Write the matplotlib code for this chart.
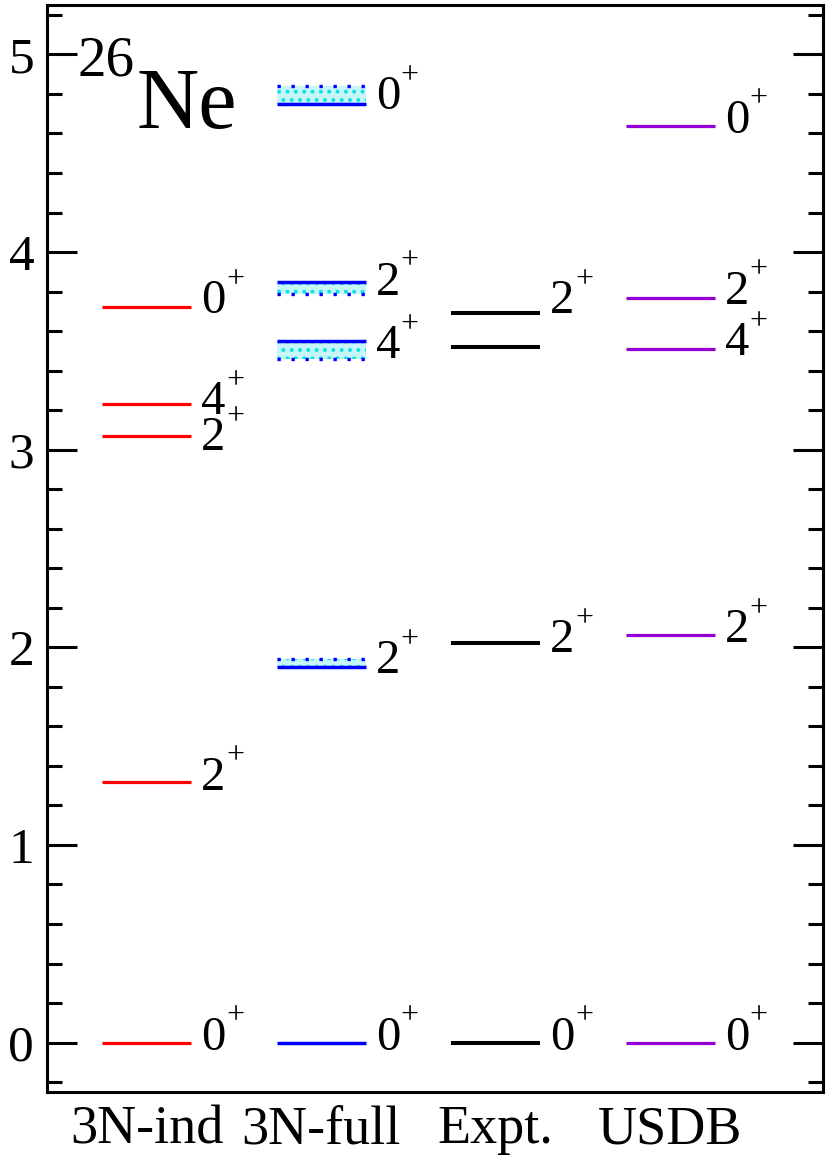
import matplotlib
matplotlib.use('Agg')
import matplotlib.pyplot as plt
import matplotlib.transforms as mtransforms
from matplotlib.ticker import MultipleLocator

plt.rcParams['font.family'] = ['Liberation Serif', 'DejaVu Serif']
plt.rcParams['hatch.linewidth'] = 1.6

# level schemes for 26Ne (MeV)
columns = ['3N-ind', '3N-full', 'Expt.', 'USDB']

ind_E = [0.0, 1.32, 3.07, 3.23, 3.72]
ind_J = ['0', '2', '2', '4', '0']

full_E = [0.0, 1.90, 3.55, 3.85, 4.75]
full_band = [None, 1.94, 3.46, 3.79, 4.84]
full_J = ['0', '2', '4', '2', '0']

expt_E = [0.0, 2.02, 3.52, 3.69]
expt_J = ['0', '2', '', '2']

usdb_E = [0.0, 2.06, 3.51, 3.77, 4.64]
usdb_J = ['0', '2', '4', '2', '0']

# label baseline shift below the level line, in pixels
ind_off = [7, 8, 14, 10, 6]
full_off = [7, 6, 17, 13, 5]
expt_off = [7, 9, 0, 0]
usdb_off = [7, 7, 6, 6, 7]

fig = plt.figure(figsize=(8.3, 11.61), dpi=100)
ax = fig.add_axes([46.7 / 830, 69 / 1161, (823.3 - 46.7) / 830, (1092 - 5) / 1161])

hw = 0.255
sets = [
    (1, ind_E, ind_J, ind_off, '#ff0000', 2.3),
    (2, full_E, full_J, full_off, '#0000ff', 2.5),
    (3, expt_E, expt_J, expt_off, '#000000', 2.9),
    (4, usdb_E, usdb_J, usdb_off, '#9400d3', 2.3),
]

for x, E, J, off, col, lw in sets:
    for e, j, o in zip(E, J, off):
        ax.plot([x - hw, x + hw], [e, e], color=col, lw=lw, solid_capstyle='butt', zorder=3)
        if j:
            tr = mtransforms.offset_copy(ax.transData, fig=fig, x=0, y=-o, units='dots')
            ax.text(x + hw + 0.058, e, j, transform=tr, fontsize=35,
                    va='baseline', ha='left')
            tr2 = mtransforms.offset_copy(ax.transData, fig=fig, x=25, y=-o + 26, units='dots')
            ax.text(x + hw + 0.058, e, '+', transform=tr2, fontsize=23,
                    va='baseline', ha='left')

# uncertainty bands of 3N-full
for e, b in zip(full_E, full_band):
    if b is None:
        continue
    ax.fill_between([2 - hw, 2 + hw], [e, e], [b, b], facecolor='#c6f6f6',
                    edgecolor='#10e0e8', hatch='..', linewidth=0, zorder=2)
    ax.plot([2 - hw, 2 + hw], [b, b], color='#0000ff', lw=2.4,
            linestyle=(0, (1, 3.2)), zorder=3)

ax.set_xlim(0.427, 4.878)
ax.set_ylim(-0.25, 5.25)
ax.set_xticks([1, 2, 3, 4])
ax.set_xticklabels(columns)
ax.tick_params(axis='x', length=0, pad=9, labelsize=39)
ax.yaxis.set_major_locator(MultipleLocator(1))
ax.yaxis.set_minor_locator(MultipleLocator(0.2))
ax.tick_params(axis='y', which='both', direction='in', left=True, right=True,
               width=2.2, labelsize=37, pad=9)
ax.tick_params(axis='y', which='major', length=21.5)
ax.tick_params(axis='y', which='minor', length=10.5)
for s in ax.spines.values():
    s.set_linewidth(2.2)

fig.text(77 / 830, 1 - 75 / 1161, '26', fontsize=41, va='baseline', ha='left')
fig.text(136 / 830, 1 - 128 / 1161, 'Ne', fontsize=62, va='baseline', ha='left')

fig.savefig('out.png', dpi=100)
